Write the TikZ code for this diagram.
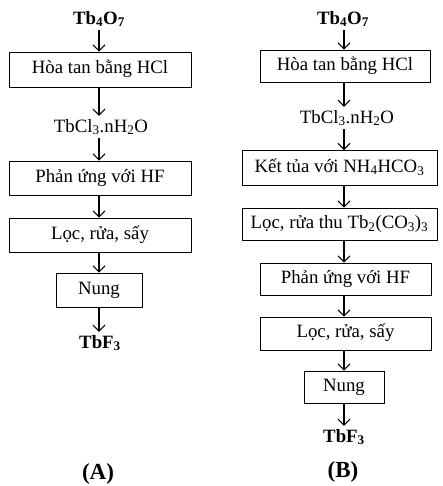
\documentclass[tikz,border=0pt]{standalone}
\usepackage{fontspec}
\setmainfont{Liberation Serif}
\usetikzlibrary{arrows.meta}
\begin{document}
\begin{tikzpicture}[x=1pt,y=-1pt,
  every node/.style={font=\fontsize{18.8}{22}\selectfont},
  box/.style={draw,line width=0.8pt,inner sep=0pt,text height=0.95em,text depth=0.1em},
  lbl/.style={inner sep=3pt},
  bold/.style={font=\fontsize{18.8}{22}\selectfont\bfseries},
  caption/.style={font=\fontsize{23}{26}\selectfont\bfseries},
  flow/.style={line width=1.1pt,-{Straight Barb[length=6pt,width=12pt,line width=1.1pt]}}]
\useasboundingbox (0,0) rectangle (442,486);
% ---------- (A) ----------
\coordinate (xa) at (99,0);
\node[lbl,bold] (ta) at (99,19) {Tb\textsubscript{4}O\textsubscript{7}};
\node[box,minimum width=182pt,minimum height=35pt] (a1) at (100,69.5) {Hòa tan bằng HCl};
\node[lbl] (tcla) at (101,127) {TbCl\textsubscript{3}.nH\textsubscript{2}O};
\node[box,minimum width=182pt,minimum height=34pt] (a2) at (100,178) {Phản ứng với HF};
\node[box,minimum width=182pt,minimum height=34pt] (a3) at (100,235) {Lọc, rửa, sấy};
\node[box,minimum width=86pt,minimum height=34pt] (a4) at (99,290) {Nung};
\node[lbl,bold] (tfa) at (100,343) {TbF\textsubscript{3}};
\node[caption] (capa) at (98,474) {(A)};
\draw[flow] (ta.south -| xa) -- (a1.north -| xa);
\draw[flow] (a1.south -| xa) -- (tcla.north -| xa);
\draw[flow] (tcla.south -| xa) -- (a2.north -| xa);
\draw[flow] (a2.south -| xa) -- (a3.north -| xa);
\draw[flow] (a3.south -| xa) -- (a4.north -| xa);
\draw[flow] (a4.south -| xa) -- (tfa.north -| xa);
% ---------- (B) ----------
\coordinate (xb) at (344,0);
\node[lbl,bold] (tb) at (343,19) {Tb\textsubscript{4}O\textsubscript{7}};
\node[box,minimum width=170pt,minimum height=32pt] (b1) at (345,66) {Hòa tan bằng HCl};
\node[lbl] (tclb) at (347,118) {TbCl\textsubscript{3}.nH\textsubscript{2}O};
\node[box,minimum width=195pt,minimum height=35pt] (b2) at (339.5,168) {Kết tủa với NH\textsubscript{4}HCO\textsubscript{3}};
\node[box,minimum width=195pt,minimum height=32pt] (b3) at (339.5,224) {Lọc, rửa thu Tb\textsubscript{2}(CO\textsubscript{3})\textsubscript{3}};
\node[box,minimum width=171pt,minimum height=32pt] (b4) at (345.5,279) {Phản ứng với HF};
\node[box,minimum width=171pt,minimum height=33pt] (b5) at (345.5,333.5) {Lọc, rửa, sấy};
\node[box,minimum width=80pt,minimum height=32pt] (b6) at (344,387) {Nung};
\node[lbl,bold] (tfb) at (344,437) {TbF\textsubscript{3}};
\node[caption] (capb) at (343,472) {(B)};
\draw[flow] (tb.south -| xb) -- (b1.north -| xb);
\draw[flow] (b1.south -| xb) -- (tclb.north -| xb);
\draw[flow] (tclb.south -| xb) -- (b2.north -| xb);
\draw[flow] (b2.south -| xb) -- (b3.north -| xb);
\draw[flow] (b3.south -| xb) -- (b4.north -| xb);
\draw[flow] (b4.south -| xb) -- (b5.north -| xb);
\draw[flow] (b5.south -| xb) -- (b6.north -| xb);
\draw[flow] (b6.south -| xb) -- (tfb.north -| xb);
\end{tikzpicture}
\end{document}
